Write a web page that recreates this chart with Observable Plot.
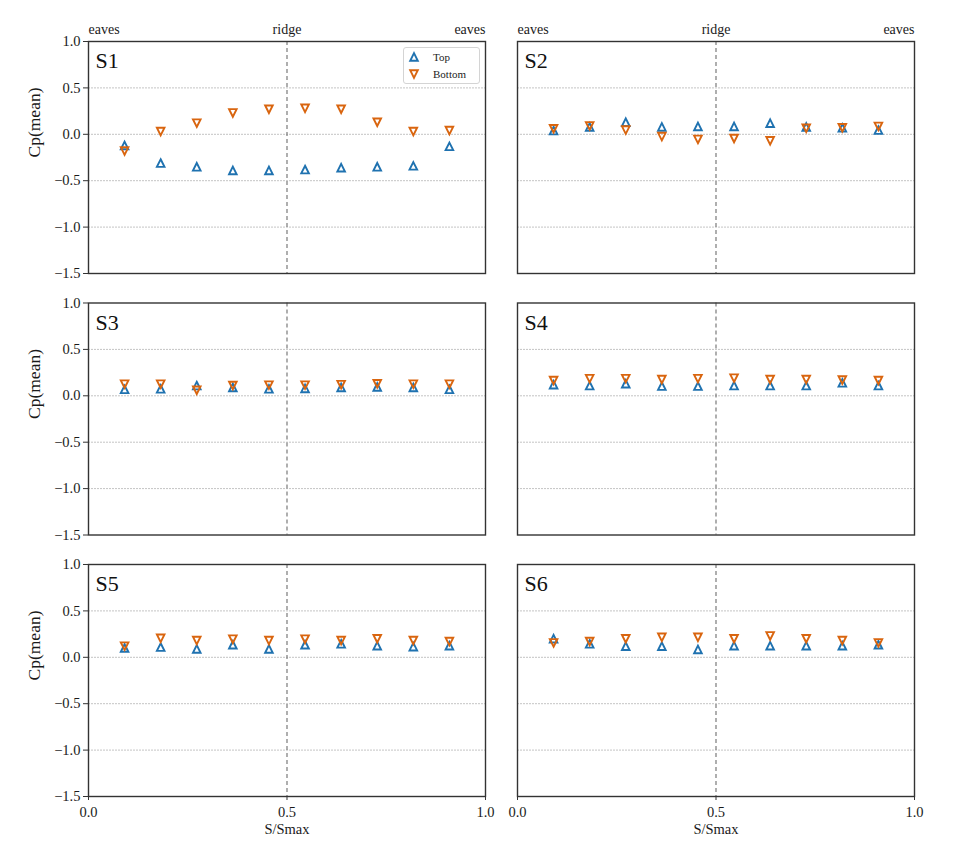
<!DOCTYPE html>
<html>
<head>
<meta charset="utf-8">
<script src="https://cdn.jsdelivr.net/npm/d3@7"></script>
<script src="https://cdn.jsdelivr.net/npm/@observablehq/plot@0.6"></script>
<style>
  html, body { margin: 0; padding: 0; background: #fff; }
  #wrap { position: relative; width: 964px; height: 855px; }
  #legend { position: absolute; left: 403px; top: 47px; width: 75px; height: 35px;
    border: 1px solid #d4d4d4; border-radius: 3px; background: rgba(255,255,255,0.85);
    font-family: "Liberation Serif", "Times New Roman", serif; font-size: 11px; color: #222; }
  #legend .row { position: absolute; left: 0; height: 16px; display: flex; align-items: center; }
  #legend svg { margin-left: 4px; margin-right: 13px; }
</style>
</head>
<body>
<div id="wrap"></div>
<script>
// ---- data ----
const sPos = [0.0909, 0.1818, 0.2727, 0.3636, 0.4545, 0.5455, 0.6364, 0.7273, 0.8182, 0.9091];
const panels = ["S1", "S2", "S3", "S4", "S5", "S6"];
const seriesNames = ["Top", "Bottom"];
const s1Top    = [-0.12, -0.31, -0.35, -0.39, -0.39, -0.38, -0.36, -0.35, -0.34, -0.13];
const s1Bottom = [-0.18, 0.03, 0.12, 0.23, 0.27, 0.28, 0.27, 0.13, 0.03, 0.04];
const s2Top    = [0.04, 0.08, 0.13, 0.08, 0.085, 0.085, 0.12, 0.08, 0.07, 0.045];
const s2Bottom = [0.06, 0.09, 0.045, -0.025, -0.055, -0.045, -0.07, 0.065, 0.07, 0.085];
const s3Top    = [0.07, 0.075, 0.11, 0.09, 0.075, 0.08, 0.09, 0.095, 0.09, 0.07];
const s3Bottom = [0.125, 0.125, 0.06, 0.11, 0.115, 0.115, 0.12, 0.13, 0.125, 0.125];
const s4Top    = [0.12, 0.11, 0.13, 0.105, 0.105, 0.11, 0.11, 0.11, 0.14, 0.11];
const s4Bottom = [0.165, 0.185, 0.185, 0.175, 0.185, 0.19, 0.175, 0.175, 0.17, 0.165];
const s5Top    = [0.1, 0.11, 0.09, 0.135, 0.09, 0.135, 0.145, 0.125, 0.115, 0.125];
const s5Bottom = [0.12, 0.205, 0.18, 0.195, 0.18, 0.195, 0.18, 0.2, 0.18, 0.17];
const s6Top    = [0.2, 0.145, 0.12, 0.12, 0.085, 0.125, 0.125, 0.125, 0.125, 0.135];
const s6Bottom = [0.155, 0.17, 0.2, 0.215, 0.215, 0.2, 0.23, 0.2, 0.18, 0.155];
const yTicks = [1.0, 0.5, 0.0, -0.5, -1.0, -1.5];
const gridTicks = [0.5, 0.0, -0.5, -1.0];
const xTicks = [0.0, 0.5, 1.0];
const headerLabels = [["eaves", 0], ["ridge", 0.5], ["eaves", 1]];
const yLabel = "Cp(mean)";
const xLabel = "S/Smax";

// ---- table ----
const topSeries = [s1Top, s2Top, s3Top, s4Top, s5Top, s6Top];
const bottomSeries = [s1Bottom, s2Bottom, s3Bottom, s4Bottom, s5Bottom, s6Bottom];
const points = [];
panels.forEach((p, i) => {
  const fx = i % 2, fy = Math.floor(i / 2);
  sPos.forEach((s, j) => {
    points.push({panel: p, fx, fy, s, cp: topSeries[i][j], series: "Top"});
    points.push({panel: p, fx, fy, s, cp: bottomSeries[i][j], series: "Bottom"});
  });
});
const panelRows = panels.map((p, i) => ({panel: p, fx: i % 2, fy: Math.floor(i / 2)}));
const headers = [0, 1].flatMap(fx => headerLabels.map(([label, pos]) => ({fx, fy: 0, label, pos})));

const blue = "#1f72b0";
const orange = "#d9650f";
const triUp = {draw(ctx, size) { const a = Math.sqrt(size / Math.PI); ctx.moveTo(0, -a); ctx.lineTo(a, a); ctx.lineTo(-a, a); ctx.closePath(); }};
const triDown = {draw(ctx, size) { const a = Math.sqrt(size / Math.PI); ctx.moveTo(0, a); ctx.lineTo(a, -a); ctx.lineTo(-a, -a); ctx.closePath(); }};

const serif = "'Liberation Serif', 'Times New Roman', serif";

const chart = Plot.plot({
  width: 964, height: 850,
  marginTop: 41, marginBottom: 54, marginLeft: 88, marginRight: 50,
  style: {fontFamily: serif, fontSize: "14px", color: "#222", background: "white"},
  x: {domain: [0, 1]},
  y: {domain: [-1.5, 1]},
  fx: {domain: [0, 1], paddingInner: 0.0746, paddingOuter: 0, round: false, axis: null},
  fy: {domain: [0, 1, 2], paddingInner: 0.1128, paddingOuter: 0, round: false, axis: null},
  marks: [
    Plot.ruleY(gridTicks, {stroke: "#c4c4c4", strokeWidth: 1, strokeDasharray: "2,1"}),
    Plot.ruleX([0.5], {stroke: "#7a7a7a", strokeWidth: 1.2, strokeDasharray: "4,3"}),
    Plot.frame({stroke: "#333", strokeWidth: 1.4}),
    Plot.axisY({ticks: yTicks, tickFormat: d3.format(".1f"), tickSize: 5, tickPadding: 3, label: null, fontSize: 14.5, stroke: "#333", fill: "#1a1a1a"}),
    Plot.axisX({ticks: xTicks, tickFormat: d3.format(".1f"), tickSize: 4, tickPadding: 6, label: null, fontSize: 14.5, stroke: "#333", fill: "#1a1a1a"}),
    Plot.dot(points.filter(d => d.series === "Top"), {x: "s", y: "cp", fx: "fx", fy: "fy", symbol: triUp, r: 3.8, stroke: blue, strokeWidth: 1.9, fill: "none"}),
    Plot.dot(points.filter(d => d.series === "Bottom"), {x: "s", y: "cp", fx: "fx", fy: "fy", symbol: triDown, r: 3.8, stroke: orange, strokeWidth: 1.9, fill: "none"}),
    Plot.text(panelRows, {fx: "fx", fy: "fy", text: "panel", frameAnchor: "top-left", dx: 7, dy: 11, lineAnchor: "top", fontSize: 22, fill: "#111"}),
    Plot.text(panelRows.filter(d => d.fx === 0), {fx: "fx", fy: "fy", text: () => yLabel, frameAnchor: "left", dx: -54, rotate: -90, fontSize: 17.5, fill: "#1a1a1a"}),
    Plot.text(panelRows.filter(d => d.fy === 2), {fx: "fx", fy: "fy", text: () => xLabel, frameAnchor: "bottom", dy: 33, lineAnchor: "middle", fontSize: 14.5, fill: "#1a1a1a"}),
    Plot.text(headers.filter(d => d.pos === 0), {fx: "fx", fy: "fy", x: "pos", text: "label", frameAnchor: "top", dy: -8, lineAnchor: "bottom", textAnchor: "start", fontSize: 14, fill: "#1a1a1a"}),
    Plot.text(headers.filter(d => d.pos === 0.5), {fx: "fx", fy: "fy", x: "pos", text: "label", frameAnchor: "top", dy: -8, lineAnchor: "bottom", textAnchor: "middle", fontSize: 14, fill: "#1a1a1a"}),
    Plot.text(headers.filter(d => d.pos === 1), {fx: "fx", fy: "fy", x: "pos", text: "label", frameAnchor: "top", dy: -8, lineAnchor: "bottom", textAnchor: "end", fontSize: 14, fill: "#1a1a1a"})
  ]
});

const wrap = document.getElementById("wrap");
wrap.appendChild(chart);

// legend (inside S1 panel, top-right)
const legend = document.createElement("div");
legend.id = "legend";
const sym = (d, color) => `<svg width="12" height="12" viewBox="-6 -6 12 12"><path d="${d}" fill="none" stroke="${color}" stroke-width="1.9"/></svg>`;
legend.innerHTML =
  `<div class="row" style="top:1px">${sym("M0,-3.8L3.8,3.8L-3.8,3.8Z", blue)}<span>${seriesNames[0]}</span></div>` +
  `<div class="row" style="top:18px">${sym("M0,3.8L3.8,-3.8L-3.8,-3.8Z", orange)}<span>${seriesNames[1]}</span></div>`;
wrap.appendChild(legend);
</script>
</body>
</html>
